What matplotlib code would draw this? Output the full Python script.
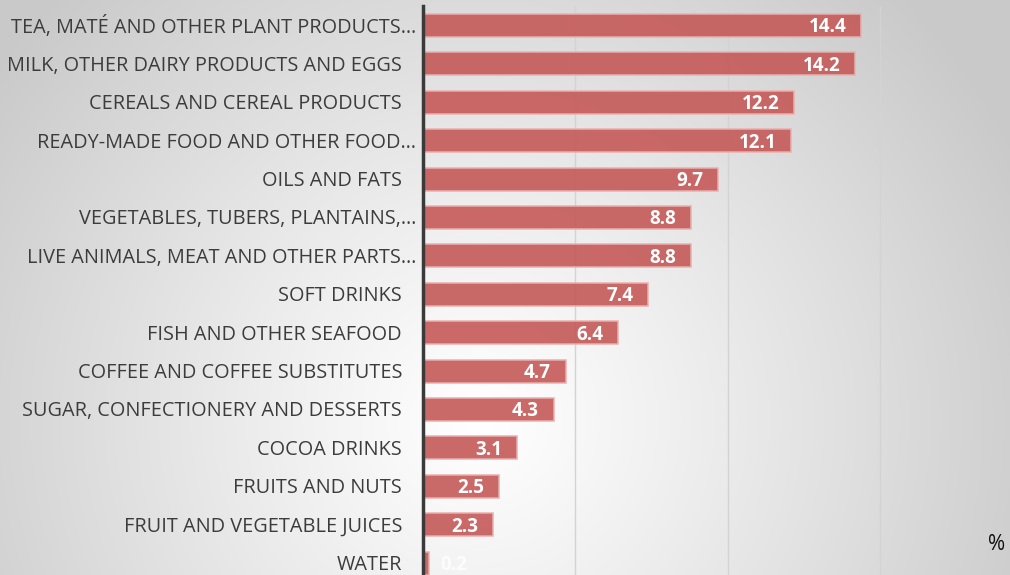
import numpy as np
import matplotlib
matplotlib.use("Agg")
import matplotlib.pyplot as plt
import matplotlib.transforms as mtransforms

categories = [
    "TEA, MATÉ AND OTHER PLANT PRODUCTS…",
    "MILK, OTHER DAIRY PRODUCTS AND EGGS",
    "CEREALS AND CEREAL PRODUCTS",
    "READY-MADE FOOD AND OTHER FOOD…",
    "OILS AND FATS",
    "VEGETABLES, TUBERS, PLANTAINS,…",
    "LIVE ANIMALS, MEAT AND OTHER PARTS…",
    "SOFT DRINKS",
    "FISH AND OTHER SEAFOOD",
    "COFFEE AND COFFEE SUBSTITUTES",
    "SUGAR, CONFECTIONERY AND DESSERTS",
    "COCOA DRINKS",
    "FRUITS AND NUTS",
    "FRUIT AND VEGETABLE JUICES",
    "WATER",
]
values = [14.4, 14.2, 12.2, 12.1, 9.7, 8.8, 8.8, 7.4, 6.4, 4.7, 4.3, 3.1, 2.5, 2.3, 0.2]
xticks = [0, 5, 10, 15]

FONT = "Open Sans"
W, H = 1010, 575
fig = plt.figure(figsize=(W / 100, H / 100), dpi=100)

# background radial gradient
bg = fig.add_axes([0, 0, 1, 1], zorder=-10)
yy, xx = np.mgrid[0:H, 0:W]
cx, cy = 480, 420
d = np.sqrt(((xx - cx) / 1.0) ** 2 + ((yy - cy) / 1.0) ** 2)
t = np.clip(d / 600.0, 0, 1)
g = 1.0 - 0.21 * t ** 1.1
img = np.dstack([g, g, g])
bg.imshow(img, aspect="auto", extent=[0, 1, 0, 1], origin="upper")
bg.axis("off")

left = 423 / W
top = 1 - 6.3 / H
ax = fig.add_axes([left, 0, 1 - left, top])
ax.patch.set_alpha(0)

y = np.arange(len(categories))
ax.barh(y, values, height=0.6, color="#c55a58", alpha=0.9,
        edgecolor="#eab0ae", linewidth=1.2, zorder=3)

ax.set_xlim(0, (W - 423) / 30.45)
ax.set_ylim(14.31, -0.5)
ax.set_xticks(xticks)
ax.tick_params(axis="x", length=0, labelbottom=False)
ax.tick_params(axis="y", length=0, labelleft=False)
ax.grid(axis="x", color="#d3d3d3", linewidth=1.0, zorder=1)
for s in ["top", "right", "bottom"]:
    ax.spines[s].set_visible(False)
ax.spines["left"].set_color("#3a3a3a")
ax.spines["left"].set_linewidth(2.5)
ax.spines["left"].set_zorder(5)

# category labels
trans = mtransforms.blended_transform_factory(ax.transAxes, ax.transData)
for i, lab in enumerate(categories):
    off = -7 if lab.endswith("…") else -21
    tr = trans + mtransforms.ScaledTranslation(off / 100, -2 / 100, fig.dpi_scale_trans)
    ax.text(0, i, lab, transform=tr, ha="right", va="center",
            fontsize=14.3, color="#3c3c3c", family=FONT)

# value labels
for i, v in enumerate(values):
    if v < 1:
        tr = ax.transData + mtransforms.ScaledTranslation(11 / 100, -2 / 100, fig.dpi_scale_trans)
        ax.text(v, i, f"{v:.1f}", transform=tr, ha="left", va="center",
                fontsize=13.5, color="white", fontweight="bold", family=FONT,
                alpha=0.8, zorder=6)
    else:
        tr = ax.transData + mtransforms.ScaledTranslation(-15 / 100, -2 / 100, fig.dpi_scale_trans)
        ax.text(v, i, f"{v:.1f}", transform=tr, ha="right", va="center",
                fontsize=13.5, color="white", fontweight="bold", family=FONT, zorder=6)

fig.text(997 / W, 1 - 545 / H, "%", ha="center", va="center",
         fontsize=15, color="#111111", family=FONT)

fig.savefig("out.png", dpi=100)
